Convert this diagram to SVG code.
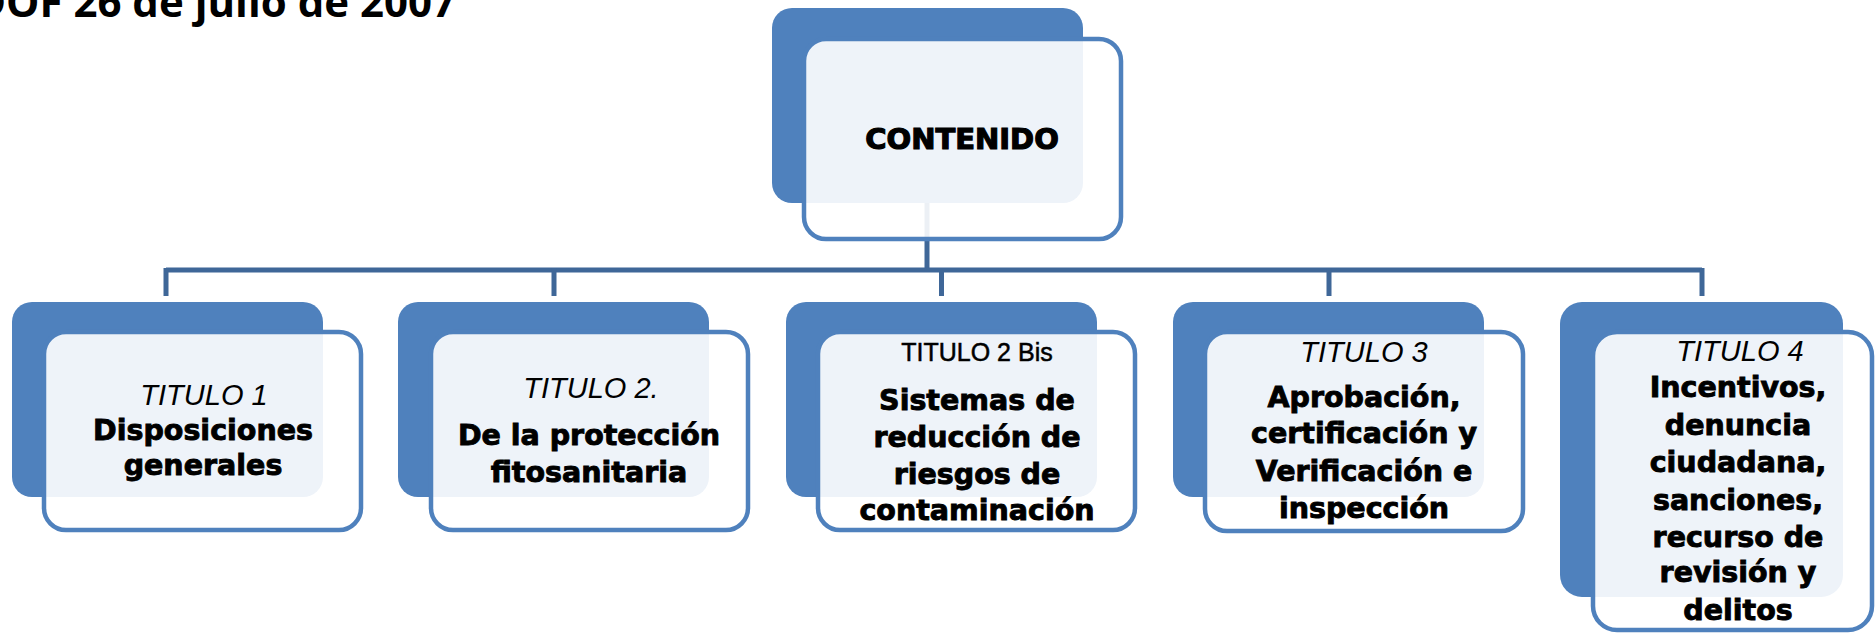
<svg xmlns="http://www.w3.org/2000/svg" width="1876" height="635" viewBox="0 0 1876 635">
<style>
.back{fill:#4F81BD;}
.front{fill:#FFFFFF;fill-opacity:0.9;stroke:#4F81BD;stroke-width:4.5;}
.conn{stroke:#3F6798;stroke-width:5;fill:none;}
.t{font-family:"Liberation Sans",Arial,sans-serif;font-style:italic;font-size:29px;fill:#000;text-anchor:middle;}
.b{font-family:"DejaVu Sans",Verdana,sans-serif;font-weight:bold;font-size:28.5px;fill:#000;stroke:#000;stroke-width:0.9;text-anchor:middle;}
.bis{font-family:"Liberation Sans",Arial,sans-serif;font-size:25px;fill:#000;stroke:#000;stroke-width:0.5;text-anchor:middle;}
.title{font-family:"Open Sans","Liberation Sans",sans-serif;font-weight:bold;font-size:42px;fill:#000;text-anchor:end;}
</style>
<text class="title" x="456" y="17">DOF 26 de julio de 2007</text>
<g id="connectors">
<path class="conn" d="M927 203 V270"/>
<path class="conn" d="M166 270 H1702"/>
<path class="conn" d="M166 268 V296 M554 268 V296 M941.5 268 V296 M1329 268 V296 M1702 268 V296"/>
</g>
<g id="contenido">
<rect class="back" x="772" y="8" width="311" height="195" rx="20"/>
<rect class="front" x="804" y="39" width="317" height="200" rx="22"/>
<text class="b" x="962" y="149" style="font-size:29px;stroke-width:1.2">CONTENIDO</text>
</g>
<g id="titulo1">
<rect class="back" x="12" y="302" width="311" height="195" rx="20"/>
<rect class="front" x="44" y="332" width="317" height="198" rx="22"/>
<text class="t" x="204" y="405">TITULO 1</text>
<text class="b" x="203" y="440">Disposiciones</text>
<text class="b" x="203" y="475">generales</text>
</g>
<g id="titulo2">
<rect class="back" x="398" y="302" width="311" height="195" rx="20"/>
<rect class="front" x="431" y="332" width="317" height="198" rx="22"/>
<text class="t" x="591" y="398">TITULO 2.</text>
<text class="b" x="589" y="445">De la protección</text>
<text class="b" x="589" y="482">fitosanitaria</text>
</g>
<g id="titulo2bis">
<rect class="back" x="786" y="302" width="311" height="195" rx="20"/>
<rect class="front" x="818" y="332" width="317" height="198" rx="22"/>
<text class="bis" x="977" y="361">TITULO 2 Bis</text>
<text class="b" x="977" y="410">Sistemas de</text>
<text class="b" x="977" y="447">reducción de</text>
<text class="b" x="977" y="484">riesgos de</text>
<text class="b" x="977" y="520">contaminación</text>
</g>
<g id="titulo3">
<rect class="back" x="1173" y="302" width="311" height="195" rx="20"/>
<rect class="front" x="1205" y="332" width="318" height="199" rx="22"/>
<text class="t" x="1364" y="362">TITULO 3</text>
<text class="b" x="1364" y="407">Aprobación,</text>
<text class="b" x="1364" y="443">certificación y</text>
<text class="b" x="1364" y="481">Verificación e</text>
<text class="b" x="1364" y="518">inspección</text>
</g>
<g id="titulo4">
<rect class="back" x="1560" y="302" width="283" height="295" rx="22"/>
<rect class="front" x="1593" y="332" width="279" height="298" rx="24"/>
<text class="t" x="1740" y="361">TITULO 4</text>
<text class="b" x="1738" y="397">Incentivos,</text>
<text class="b" x="1738" y="435">denuncia</text>
<text class="b" x="1738" y="472">ciudadana,</text>
<text class="b" x="1738" y="510">sanciones,</text>
<text class="b" x="1738" y="547">recurso de</text>
<text class="b" x="1738" y="582">revisión y</text>
<text class="b" x="1738" y="620">delitos</text>
</g>
</svg>
